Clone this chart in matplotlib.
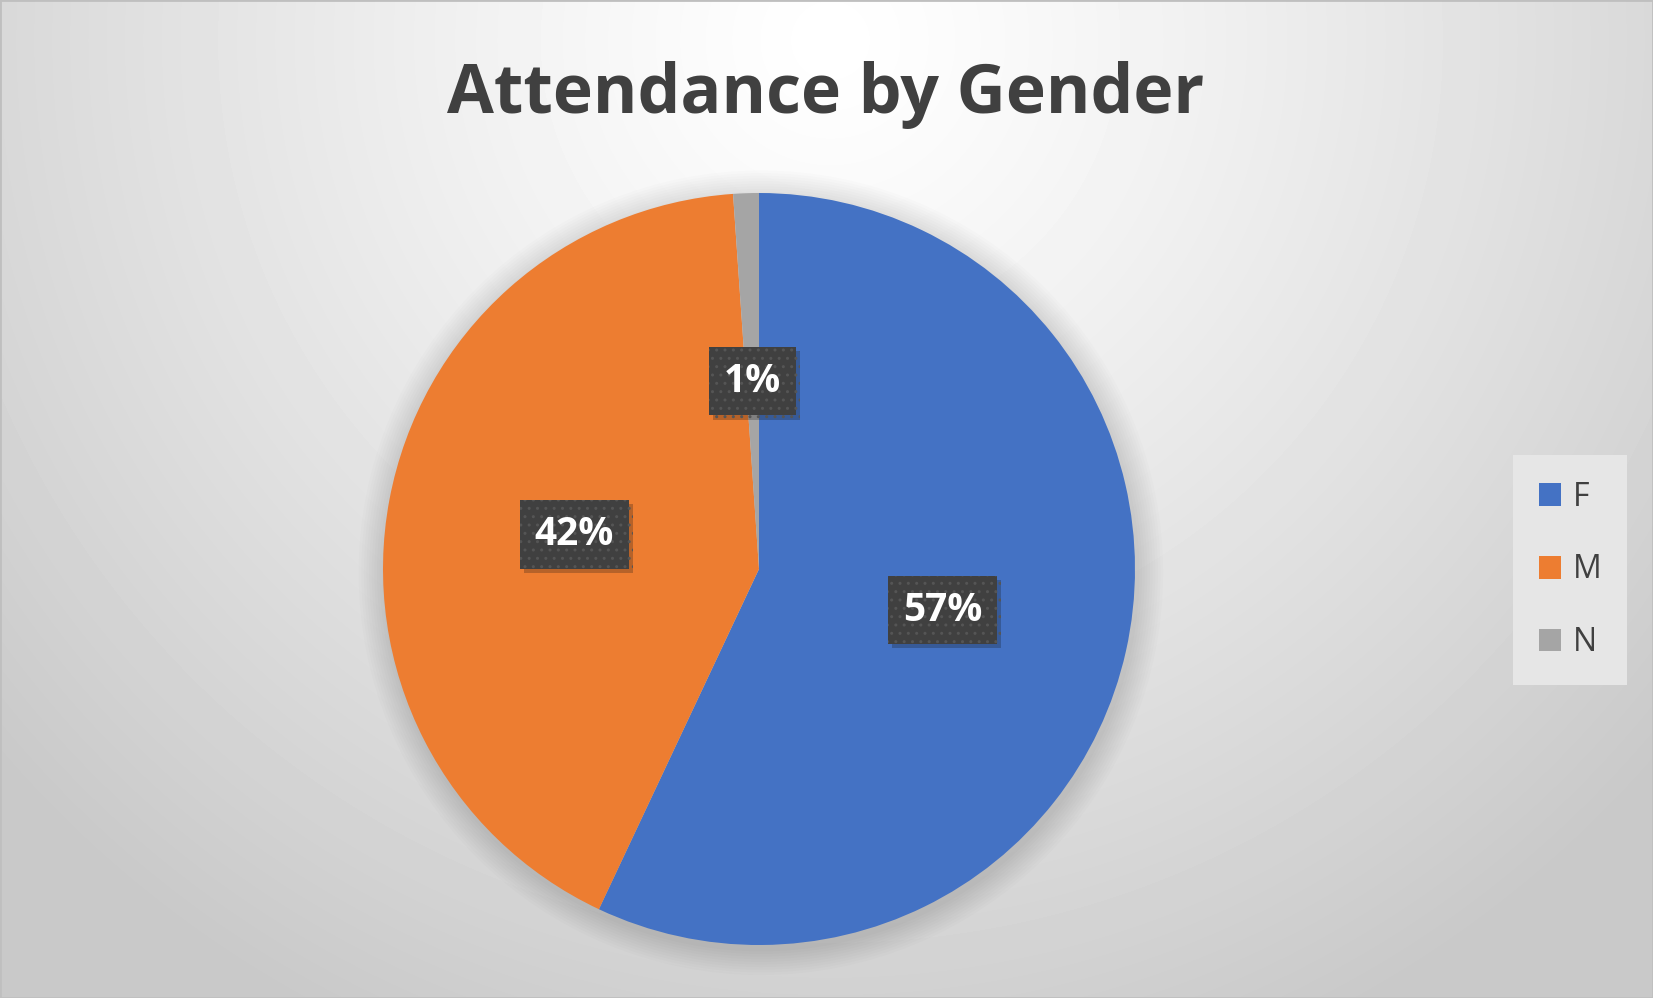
import matplotlib
matplotlib.use("Agg")
import matplotlib.pyplot as plt
import matplotlib.patheffects as pe
import numpy as np
from matplotlib.patches import Circle, Rectangle


TITLE = "Attendance by Gender"
CATEGORIES = ["F", "M", "N"]
SHARES = [57.0, 41.9, 1.1]
COLORS = ["#4472C4", "#ED7D31", "#A5A5A5"]

FIG_W, FIG_H = 1653, 998
TEXT_COLOR = "#404040"


def background(fig):
    # soft radial gradient, bright at the top centre
    yy, xx = np.mgrid[0:FIG_H, 0:FIG_W]
    d = np.sqrt(((xx - 830) / 1000.0) ** 2 + ((yy - 40) / 1000.0) ** 2)
    val = 1.0 - 0.19 * np.clip(d, 0, 1.1) ** 1.2
    bg = fig.add_axes([0, 0, 1, 1], zorder=-10)
    bg.imshow(val, cmap="gray", vmin=0, vmax=1, aspect="auto",
              interpolation="bilinear")
    bg.set_axis_off()
    fig.patches.append(Rectangle((0, 0), 1, 1, transform=fig.transFigure,
                                 fill=False, edgecolor="#BFBFBF", linewidth=2))


def main():
    plt.rcParams["font.family"] = ["Open Sans", "DejaVu Sans"]
    fig = plt.figure(figsize=(FIG_W / 100, FIG_H / 100), dpi=100)
    background(fig)

    cx, cy, r = 759, 569, 376
    ax = fig.add_axes([(cx - r) / FIG_W, (FIG_H - cy - r) / FIG_H,
                       2 * r / FIG_W, 2 * r / FIG_H])

    # faint glow round the pie
    for k in range(10):
        ax.add_patch(Circle((0.005, -0.01), 1.0 + 0.007 * (k + 1),
                            color="black", alpha=0.01, lw=0, zorder=0,
                            clip_on=False))

    wedges, _, autotexts = ax.pie(
        SHARES, colors=COLORS, startangle=90, counterclock=False,
        radius=1.0, autopct="%1.0f%%", pctdistance=0.5,
        wedgeprops=dict(linewidth=0),
        textprops=dict(color="white", fontsize=28, fontweight="bold"),
    )
    ax.set_xlim(-1, 1)
    ax.set_ylim(-1, 1)
    ax.set_aspect("equal")
    ax.set_axis_off()

    for wedge in wedges:
        wedge.set_zorder(1)
    for t in autotexts:
        t.set_zorder(5)
        t.set_bbox(dict(boxstyle="square,pad=0.38", facecolor="#404040",
                        edgecolor="#555555", linewidth=0, hatch=".."))
        t.get_bbox_patch().set_path_effects(
            [pe.withSimplePatchShadow(offset=(3, -3), alpha=0.25), pe.Normal()])

    fig.text(826 / FIG_W, 1 - 95 / FIG_H, TITLE, ha="center", va="center",
             fontsize=49, fontweight="bold", color=TEXT_COLOR)

    leg = fig.legend(wedges, CATEGORIES, loc="center",
                     bbox_to_anchor=(1570 / FIG_W, 1 - 570 / FIG_H),
                     fontsize=23, frameon=True, fancybox=False,
                     handlelength=0.7, handleheight=0.7, handletextpad=0.35,
                     labelspacing=1.25, borderpad=0.8, borderaxespad=0)
    frame = leg.get_frame()
    frame.set_facecolor("#E6E6E6")
    frame.set_edgecolor("none")
    frame.set_alpha(1)
    for t in leg.get_texts():
        t.set_color(TEXT_COLOR)

    fig.savefig("out.png", dpi=100)
    plt.close(fig)


if __name__ == "__main__":
    main()
